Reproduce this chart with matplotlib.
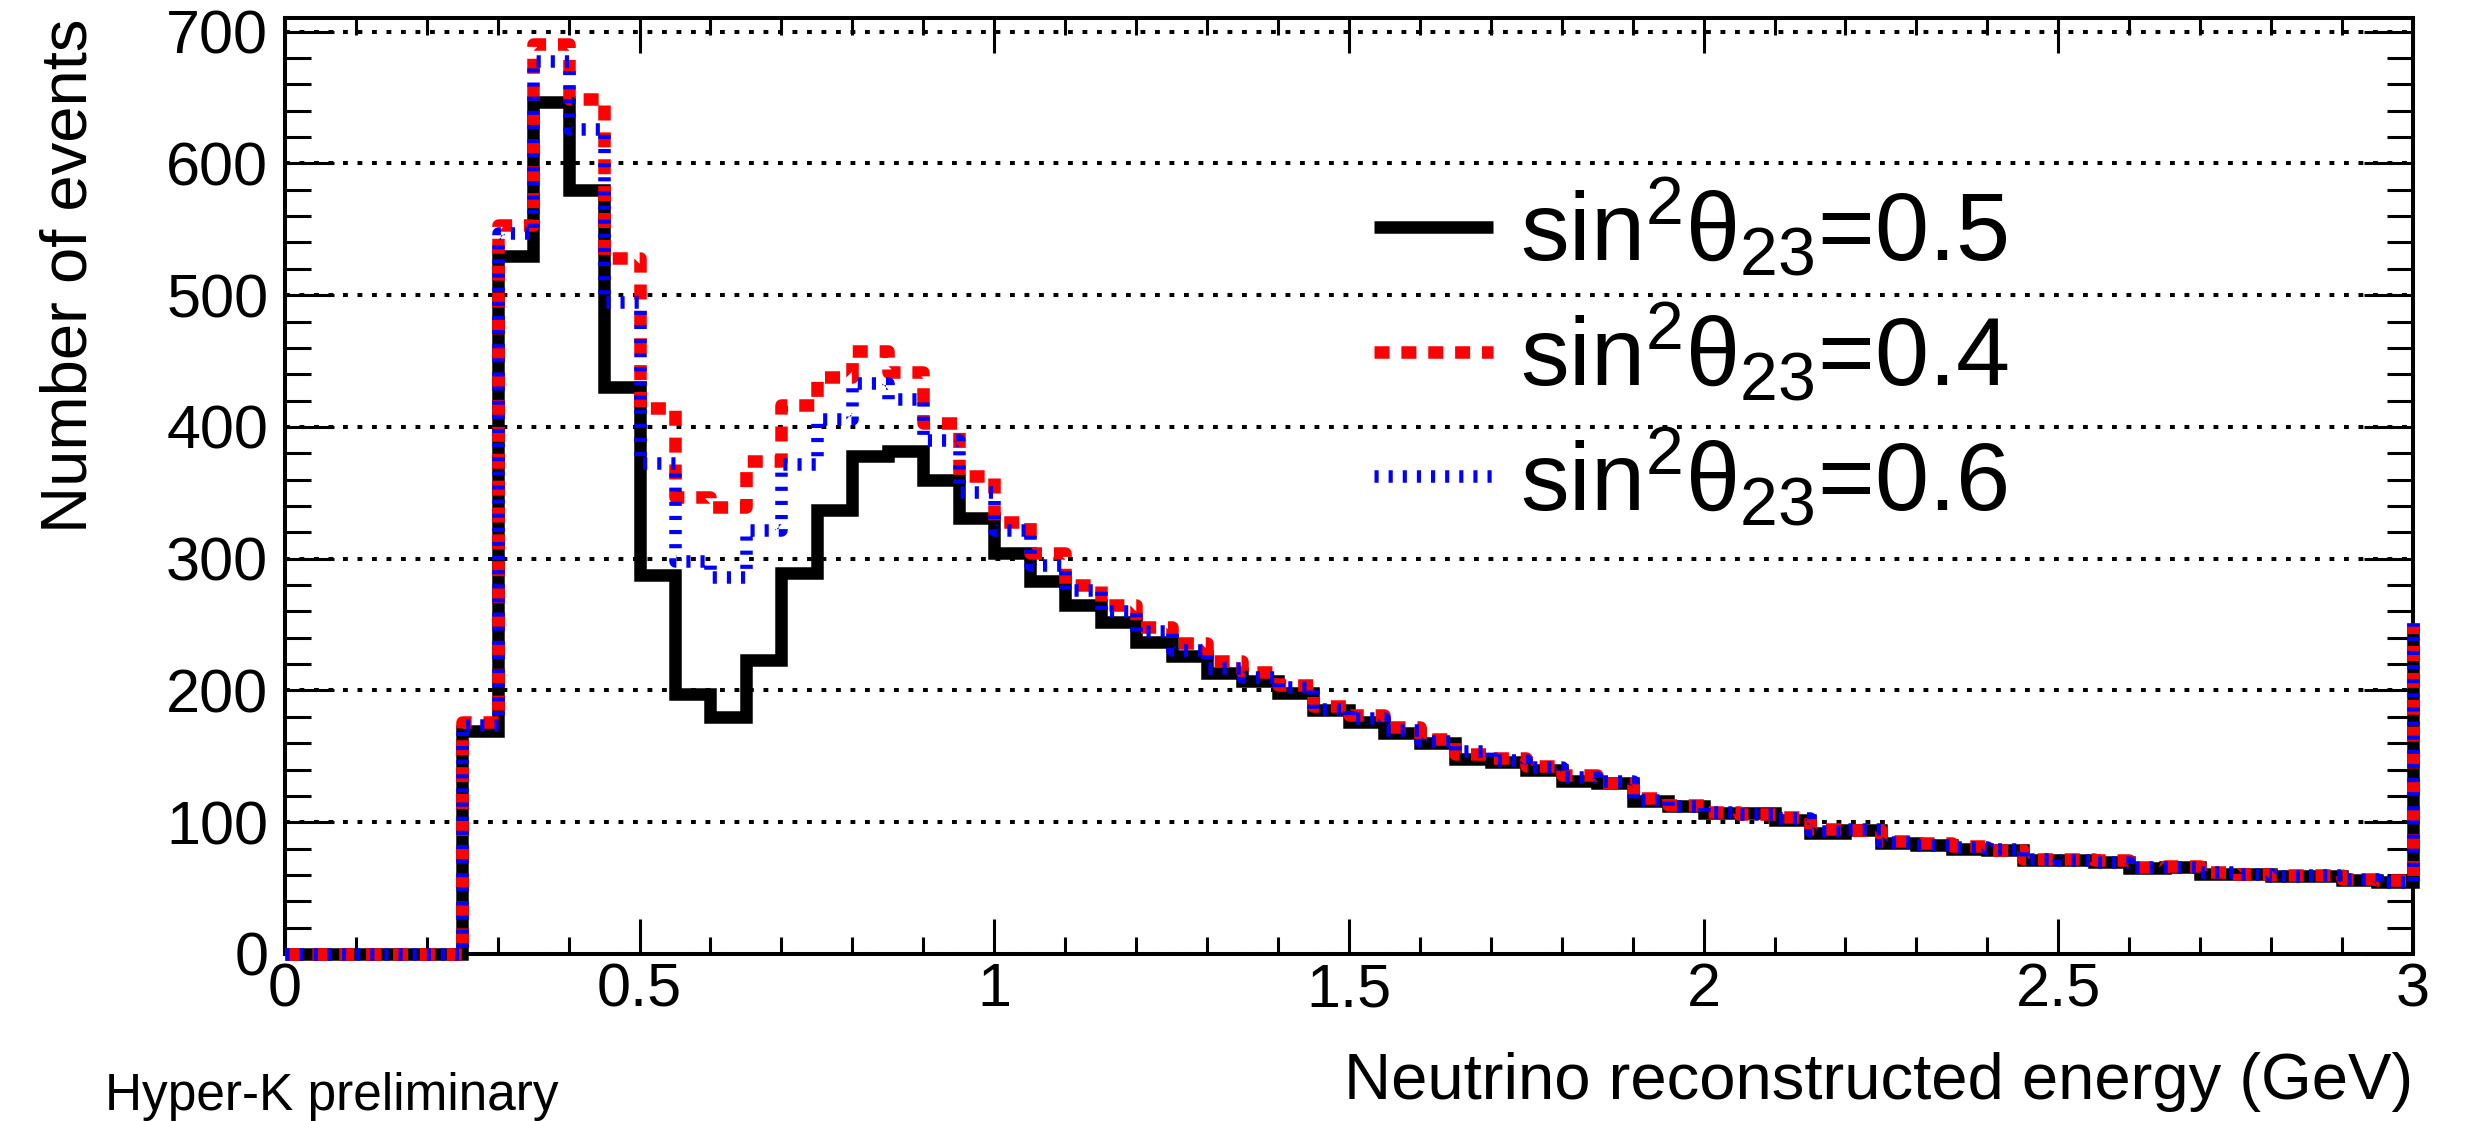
import numpy as np
import matplotlib
matplotlib.use("Agg")
import matplotlib.pyplot as plt
from matplotlib.ticker import MultipleLocator

plt.rcParams['font.family'] = ['Liberation Sans', 'DejaVu Sans']
plt.rcParams['mathtext.fontset'] = 'custom'
plt.rcParams['mathtext.rm'] = 'Liberation Sans'
plt.rcParams['mathtext.it'] = 'Liberation Sans'

# 60 bins of 0.05 GeV from 0 to 3 GeV
bin_edges = np.linspace(0.0, 3.0, 61)

# sin^2 theta23 = 0.5
events_05 = [0, 0, 0, 0, 0, 169, 530, 647, 580, 430,
             288, 197, 180, 223, 289, 337, 378, 382, 360, 331,
             304, 283, 265, 252, 237, 226, 213, 207, 198, 185,
             176, 168, 160, 148, 146, 140, 131, 130, 116, 112,
             107, 107, 102, 92, 94, 84, 83, 80, 79, 71,
             71, 70, 65, 66, 61, 61, 59, 59, 56, 55]
# sin^2 theta23 = 0.4
events_04 = [0, 0, 0, 0, 0, 176, 553, 691, 649, 528,
             414, 347, 339, 374, 417, 438, 458, 442, 403, 363,
             328, 304, 280, 265, 248, 236, 222, 214, 204, 188,
             181, 172, 163, 152, 149, 143, 136, 130, 118, 113,
             108, 106, 104, 95, 94, 86, 84, 82, 79, 72,
             72, 71, 66, 67, 62, 61, 60, 60, 57, 56]
# sin^2 theta23 = 0.6
events_06 = [0, 0, 0, 0, 0, 174, 547, 678, 626, 495,
             373, 298, 286, 322, 372, 406, 433, 421, 390, 351,
             322, 295, 276, 260, 245, 231, 217, 210, 203, 186,
             179, 170, 162, 154, 147, 142, 134, 131, 117, 112,
             108, 106, 103, 93, 95, 85, 83, 81, 80, 72,
             71, 70, 66, 66, 62, 61, 59, 60, 57, 55]
# content of the bin just past 3 GeV (only its rising edge is visible)
next_bin = {'0.5': 251, '0.4': 251, '0.6': 251}

labels = {'0.5': r'sin$^{2}\theta_{23}$=0.5',
          '0.4': r'sin$^{2}\theta_{23}$=0.4',
          '0.6': r'sin$^{2}\theta_{23}$=0.6'}


def step_xy(edges, vals, nxt):
    xs = np.repeat(edges, 2)[1:-1]
    ys = np.repeat(np.asarray(vals, dtype=float), 2)
    xs = np.append(xs, edges[-1])
    ys = np.append(ys, nxt)
    return xs, ys


fig = plt.figure(figsize=(24.73, 11.21), dpi=100)
ax = fig.add_axes([0.1152, 0.149, 0.8605, 0.8345])

lw = 9.0
x, y = step_xy(bin_edges, events_05, next_bin['0.5'])
ax.plot(x, y, color='black', lw=lw, solid_capstyle='butt', solid_joinstyle='miter',
        clip_on=False, zorder=3, label=labels['0.5'])
x, y = step_xy(bin_edges, events_04, next_bin['0.4'])
ax.plot(x, y, color='#ff0000', lw=lw, dashes=(1.2, 0.95), dash_capstyle='butt',
        clip_on=False, zorder=4, label=labels['0.4'])
x, y = step_xy(bin_edges, events_06, next_bin['0.6'])
ax.plot(x, y, color='#0000ff', lw=lw, dashes=(0.33, 0.8), dash_capstyle='butt',
        clip_on=False, zorder=5, label=labels['0.6'])

ax.set_xlim(0, 3)
ax.set_ylim(0, 710)

ax.xaxis.set_major_locator(MultipleLocator(0.5))
ax.xaxis.set_minor_locator(MultipleLocator(0.1))
ax.yaxis.set_major_locator(MultipleLocator(100))
ax.yaxis.set_minor_locator(MultipleLocator(20))
ax.xaxis.set_major_formatter(matplotlib.ticker.FuncFormatter(lambda v, p: '%g' % v))

ax.tick_params(which='both', direction='in', top=True, right=True, width=2.2,
               labelsize=44)
ax.tick_params(axis='x', which='major', length=25, pad=6)
ax.tick_params(axis='x', which='minor', length=12)
ax.tick_params(axis='y', which='major', length=35, pad=12)
ax.tick_params(axis='y', which='minor', length=19)
for s in ax.spines.values():
    s.set_linewidth(2.9)

ax.yaxis.grid(True, which='major', color='black', linewidth=2.9,
              linestyle=(0, (1.2, 2.4)))
ax.set_axisbelow(True)

ax.set_xlabel('Neutrino reconstructed energy (GeV)', fontsize=47, loc='right')
ax.xaxis.set_label_coords(1.0, -0.105)
ax.set_ylabel('Number of events', fontsize=47, loc='top')
ax.yaxis.set_label_coords(-0.087, 1.0)

fig.text(105 / 2473, 1 - 1110 / 1121, 'Hyper-K preliminary', fontsize=37,
         ha='left', va='baseline')

ax.legend(loc='upper left', bbox_to_anchor=(0.5117, 0.83), frameon=False,
          fontsize=70, handlelength=1.23, handletextpad=0.27,
          borderpad=0, borderaxespad=0, labelspacing=0.22)

fig.savefig('out.png', dpi=100)
